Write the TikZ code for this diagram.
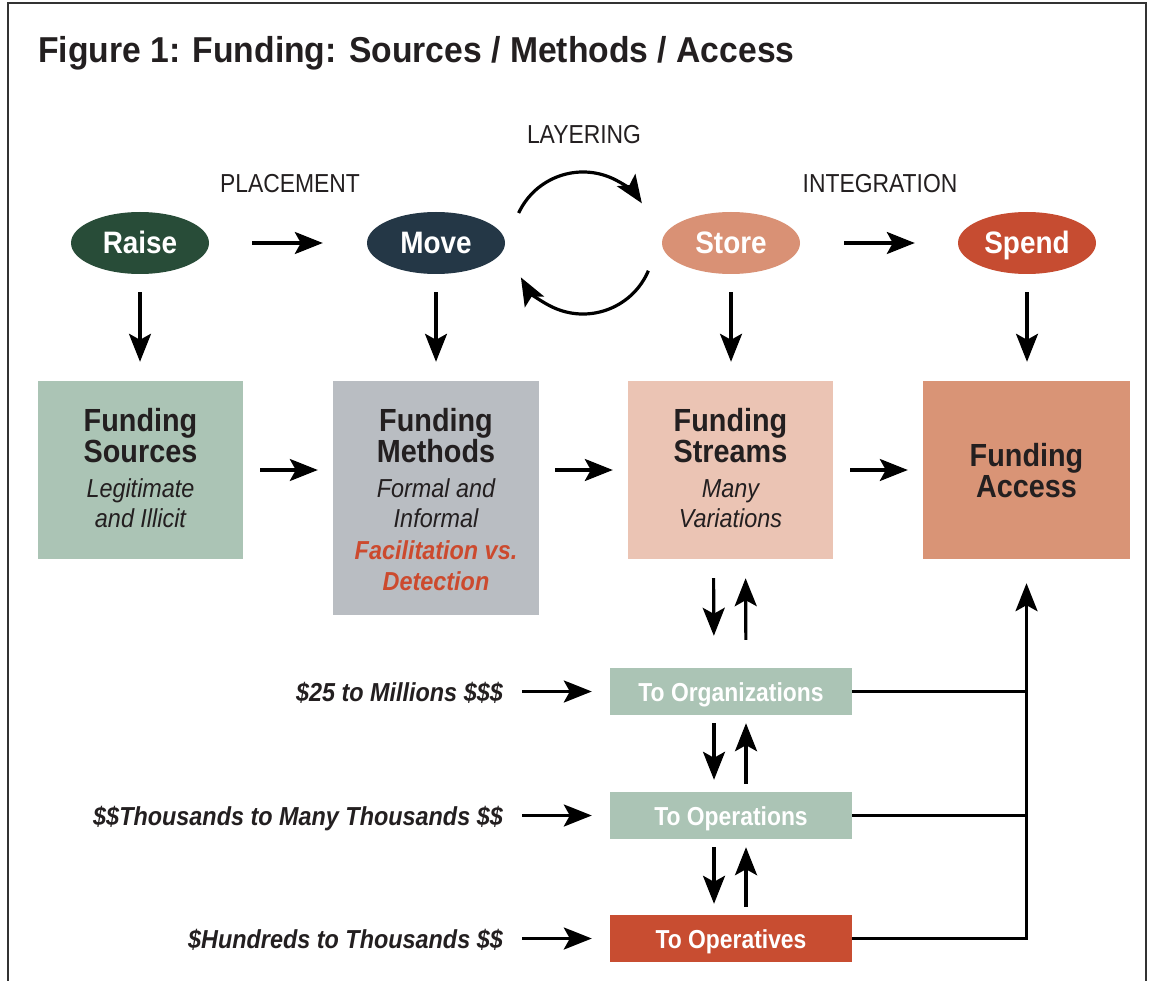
\documentclass[tikz,border=0pt]{standalone}
\usepackage{fontspec}
\setmainfont{Liberation Sans}
\newfontfamily\titlefont[FakeStretch=0.935]{Liberation Sans}
\newfontfamily\condfont[FakeStretch=0.9]{Liberation Sans}
\newfontfamily\narrowfont[FakeStretch=0.88]{Liberation Sans}
\usetikzlibrary{shapes.geometric,arrows.meta}
\definecolor{sage}{HTML}{ABC4B5}
\definecolor{greybox}{HTML}{B9BDC2}
\definecolor{pinkbox}{HTML}{EBC4B4}
\definecolor{accessbox}{HTML}{D99476}
\definecolor{redbox}{HTML}{C84D31}
\definecolor{raisec}{HTML}{284C38}
\definecolor{movec}{HTML}{243746}
\definecolor{storec}{HTML}{D99175}
\definecolor{spendc}{HTML}{C64C31}
\definecolor{textdark}{HTML}{231F20}
\definecolor{redtext}{HTML}{CC4A2E}
\tikzset{
  arr/.style={line width=3.2pt, -{Stealth[length=28pt,width=22pt,inset=6pt]}},
  plain/.style={line width=3.2pt},
  oval/.style={ellipse, inner sep=0pt, minimum width=138pt, minimum height=62pt},
  bigbox/.style={rectangle, inner sep=0pt, minimum width=205pt, minimum height=178pt},
  smallbox/.style={rectangle, inner sep=0pt, minimum width=242pt, minimum height=47pt},
  ovaltext/.style={anchor=base, inner sep=0pt, text=white, font=\condfont\bfseries\fontsize{31}{31}\selectfont},
  boxtitle/.style={anchor=base, inner sep=0pt, text=textdark, font=\condfont\bfseries\fontsize{32}{32}\selectfont},
  boxital/.style={anchor=base, inner sep=0pt, text=textdark, font=\condfont\itshape\fontsize{26}{26}\selectfont},
  boxred/.style={anchor=base, inner sep=0pt, text=redtext, font=\condfont\bfseries\itshape\fontsize{26}{26}\selectfont},
  stagelabel/.style={anchor=base, inner sep=0pt, text=textdark, font=\narrowfont\fontsize{26}{26}\selectfont},
  smalltext/.style={anchor=base, inner sep=0pt, text=white, font=\narrowfont\bfseries\fontsize{26}{26}\selectfont},
  amount/.style={anchor=base east, inner sep=0pt, text=textdark, font=\condfont\bfseries\itshape\fontsize{26}{26}\selectfont},
}
\begin{document}
\begin{tikzpicture}[x=1pt, y=-1pt]
\useasboundingbox (0,0) rectangle (1158,981);
\fill[white] (0,0) rectangle (1158,981);
\draw[line width=2pt, black!80] (8,981) -- (8,3) -- (1146,3) -- (1146,981);

% title
\node[anchor=base west, inner sep=0pt, text=textdark, font=\titlefont\bfseries\fontsize{36}{36}\selectfont] (title) at (38,63) {Figure 1: Funding: Sources / Methods / Access};

% stage labels
\node[stagelabel] (layering) at (584,144) {LAYERING};
\node[stagelabel] (placement) at (290,193) {PLACEMENT};
\node[stagelabel] (integration) at (880,193) {INTEGRATION};

% ovals
\node[oval, fill=raisec] (raise) at (140,243) {};
\node[oval, fill=movec] (move) at (436,243) {};
\node[oval, fill=storec] (store) at (731,243) {};
\node[oval, fill=spendc] (spend) at (1027,243) {};
\node[ovaltext] (raiseT) at (140,254) {Raise};
\node[ovaltext] (moveT) at (436,254) {Move};
\node[ovaltext] (storeT) at (731,254) {Store};
\node[ovaltext] (spendT) at (1027,254) {Spend};

% big boxes
\node[bigbox, fill=sage] (src) at (140.5,470) {};
\node[bigbox, fill=greybox, minimum height=234pt, minimum width=206pt] (meth) at (436,498) {};
\node[bigbox, fill=pinkbox] (strm) at (730.5,470) {};
\node[bigbox, fill=accessbox, minimum width=207pt] (acc) at (1026.5,470) {};

\node[boxtitle] (src1) at (140.5,431) {Funding};
\node[boxtitle] (src2) at (140.5,462) {Sources};
\node[boxital] (src3) at (140.5,497) {Legitimate};
\node[boxital] (src4) at (140.5,527) {and Illicit};

\node[boxtitle] (meth1) at (436,431) {Funding};
\node[boxtitle] (meth2) at (436,462) {Methods};
\node[boxital] (meth3) at (436,497) {Formal and};
\node[boxital] (meth4) at (436,527) {Informal};
\node[boxred] (meth5) at (436,559) {Facilitation vs.};
\node[boxred] (meth6) at (436,590) {Detection};

\node[boxtitle] (strm1) at (730.5,431) {Funding};
\node[boxtitle] (strm2) at (730.5,462) {Streams};
\node[boxital] (strm3) at (730.5,497) {Many};
\node[boxital] (strm4) at (730.5,527) {Variations};

\node[boxtitle] (acc1) at (1026.5,466) {Funding};
\node[boxtitle] (acc2) at (1026.5,497) {Access};

% small boxes
\node[smallbox, fill=sage] (org) at (731,691.5) {};
\node[smallbox, fill=sage] (ops) at (731,815.5) {};
\node[smallbox, fill=redbox] (opv) at (731,938.5) {};
\node[smalltext] (orgT) at (731,701) {To Organizations};
\node[smalltext] (opsT) at (731,825) {To Operations};
\node[smalltext] (opvT) at (731,948) {To Operatives};

% amounts
\node[amount] (am1) at (503,701) {\$25 to Millions \$\$\$};
\node[amount] (am2) at (503,825) {\$\$Thousands to Many Thousands \$\$};
\node[amount] (am3) at (503,948) {\$Hundreds to Thousands \$\$};

% horizontal arrows between ovals
\draw[arr, shorten <=43pt, shorten >=44pt] (raise) -- (move);
\draw[arr, shorten <=44pt, shorten >=43pt] (store) -- (spend);

% layering loop
\coordinate (loopc) at (583,243);
\draw[arr] ([shift={(205:71)}]loopc) arc[start angle=205, end angle=326, radius=71];
\draw[arr] ([shift={(23:71)}]loopc) arc[start angle=23, end angle=151, radius=71];

% down arrows ovals -> boxes
\draw[arr, shorten <=18pt, shorten >=19pt] (raise.south) -- (raise.south |- src.north);
\draw[arr, shorten <=18pt, shorten >=19pt] (move.south) -- (move.south |- meth.north);
\draw[arr, shorten <=18pt, shorten >=19pt] (store.south) -- (store.south |- strm.north);
\draw[arr, shorten <=18pt, shorten >=19pt] (spend.south) -- (spend.south |- acc.north);

% box to box arrows
\draw[arr, shorten <=17pt, shorten >=15pt] (src.east) -- (src.east -| meth.west);
\draw[arr, shorten <=16pt, shorten >=15pt] (meth.east |- src.east) -- (strm.west);
\draw[arr, shorten <=17pt, shorten >=15pt] (strm.east) -- (acc.west);

% double arrows
\draw[arr, shorten <=19pt, shorten >=32pt] ([xshift=-17pt]strm.south) -- ([xshift=-17pt]org.north);
\draw[arr, shorten <=28pt, shorten >=19pt] ([xshift=15pt]org.north) -- ([xshift=15pt]strm.south);
\draw[arr, shorten <=8pt, shorten >=12pt] ([xshift=-17pt]org.south) -- ([xshift=-17pt]ops.north);
\draw[arr, shorten <=8pt, shorten >=8pt] ([xshift=15pt]ops.north) -- ([xshift=15pt]org.south);
\draw[arr, shorten <=8pt, shorten >=11pt] ([xshift=-17pt]ops.south) -- ([xshift=-17pt]opv.north);
\draw[arr, shorten <=8pt, shorten >=8pt] ([xshift=15pt]opv.north) -- ([xshift=15pt]ops.south);

% amount arrows
\draw[arr, shorten <=19pt, shorten >=18pt] (am1.east |- org.west) -- (org.west);
\draw[arr, shorten <=19pt, shorten >=18pt] (am2.east |- ops.west) -- (ops.west);
\draw[arr, shorten <=19pt, shorten >=18pt] (am3.east |- opv.west) -- (opv.west);

% right collector
\coordinate (j1) at (acc.south |- org.east);
\coordinate (j2) at (acc.south |- ops.east);
\coordinate (j3) at (acc.south |- opv.east);
\draw[plain] (org.east) -- (j1);
\draw[plain] (ops.east) -- (j2);
\draw[plain, line join=miter] (opv.east) -- (j3) -- (j1);
\draw[arr, shorten >=24pt] (j1) -- (acc.south);
\end{tikzpicture}
\end{document}
